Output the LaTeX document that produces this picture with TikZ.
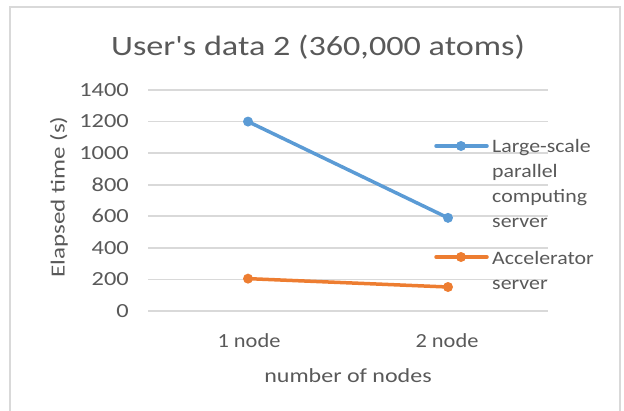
\documentclass[tikz,border=0pt]{standalone}
\usepackage{fontspec}
\newfontfamily\chartfont{Carlito}
\usetikzlibrary{positioning}
\definecolor{GridGray}{RGB}{217, 217, 217}
\definecolor{TextGray}{RGB}{89, 89, 89}
\definecolor{SeriesBlue}{RGB}{91, 155, 213}
\definecolor{SeriesOrange}{RGB}{237, 125, 49}

\begin{document}
\begin{tikzpicture}[
    x=1pt, y=-1pt,
    grid/.style={draw=GridGray, line width=1.8pt},
    lbl/.style={text=TextGray, font=\chartfont\fontsize{20}{25}\selectfont, inner sep=0pt},
    tick/.style={lbl, anchor=east, xscale=1.22},
    series/.style={line width=3.5pt, line cap=round},
    dot/.style={circle, fill, inner sep=0pt, minimum size=10pt}
  ]
    \useasboundingbox (0,0) rectangle (624,410);
    % chart frame
    \draw[GridGray, line width=1.5pt] (10,7) rectangle (620,416);

    % title
    \node[lbl, font=\chartfont\fontsize{28}{32}\selectfont, xscale=1.22] (title) at (318,47) {User's data 2 (360,000 atoms)};

    \begin{scope}[shift={(0,311)}, y=0.15786pt]
    % gridlines and value axis
    \draw[grid] (148,0) -- (548,0);
    \draw[grid] (148,200) -- (548,200);
    \draw[grid] (148,400) -- (548,400);
    \draw[grid] (148,600) -- (548,600);
    \draw[grid] (148,800) -- (548,800);
    \draw[grid] (148,1000) -- (548,1000);
    \draw[grid] (148,1200) -- (548,1200);
    \draw[grid] (148,1400) -- (548,1400);
    \node[tick] (v0) at (129,0) {0};
    \node[tick] (v200) at (129,200) {200};
    \node[tick] (v400) at (129,400) {400};
    \node[tick] (v600) at (129,600) {600};
    \node[tick] (v800) at (129,800) {800};
    \node[tick] (v1000) at (129,1000) {1000};
    \node[tick] (v1200) at (129,1200) {1200};
    \node[tick] (v1400) at (129,1400) {1400};

    % Large-scale parallel computing server
    \node[dot, SeriesBlue] (blue1) at (248,1200) {};
    \node[dot, SeriesBlue] (blue2) at (448,590) {};
    \draw[series, SeriesBlue] (blue1.center) -- (blue2.center);

    % Accelerator server
    \node[dot, SeriesOrange] (orange1) at (248,205) {};
    \node[dot, SeriesOrange] (orange2) at (448,152) {};
    \draw[series, SeriesOrange] (orange1.center) -- (orange2.center);
    \end{scope}

    % category axis
    \node[lbl, xscale=1.12] (cat1) at (249,341) {1 node};
    \node[lbl, xscale=1.12] (cat2) at (447,341) {2 node};
    \node[lbl, xscale=1.2] (xtitle) at (348,376) {number of nodes};
    \node[lbl, rotate=90, xscale=1.25] (ytitle) at (59,197) {Elapsed time (s)};

    % legend
    \coordinate (legA) at (436,146);
    \coordinate (legB) at (487,146);
    \draw[series, SeriesBlue] (legA) -- (legB);
    \node[dot, SeriesBlue] (legdotA) at (461,146) {};
    \node[lbl, font=\chartfont\fontsize{19}{25}\selectfont, xscale=1.15, align=left, anchor=north west] (legtextA) at (492,139) {Large-scale\\parallel\\computing\\server};
    \coordinate (legC) at (436,257);
    \coordinate (legD) at (487,257);
    \draw[series, SeriesOrange] (legC) -- (legD);
    \node[dot, SeriesOrange] (legdotB) at (461,257) {};
    \node[lbl, font=\chartfont\fontsize{19}{25}\selectfont, xscale=1.15, align=left, anchor=north west] (legtextB) at (492,251) {Accelerator\\server};
  \end{tikzpicture}
\end{document}
